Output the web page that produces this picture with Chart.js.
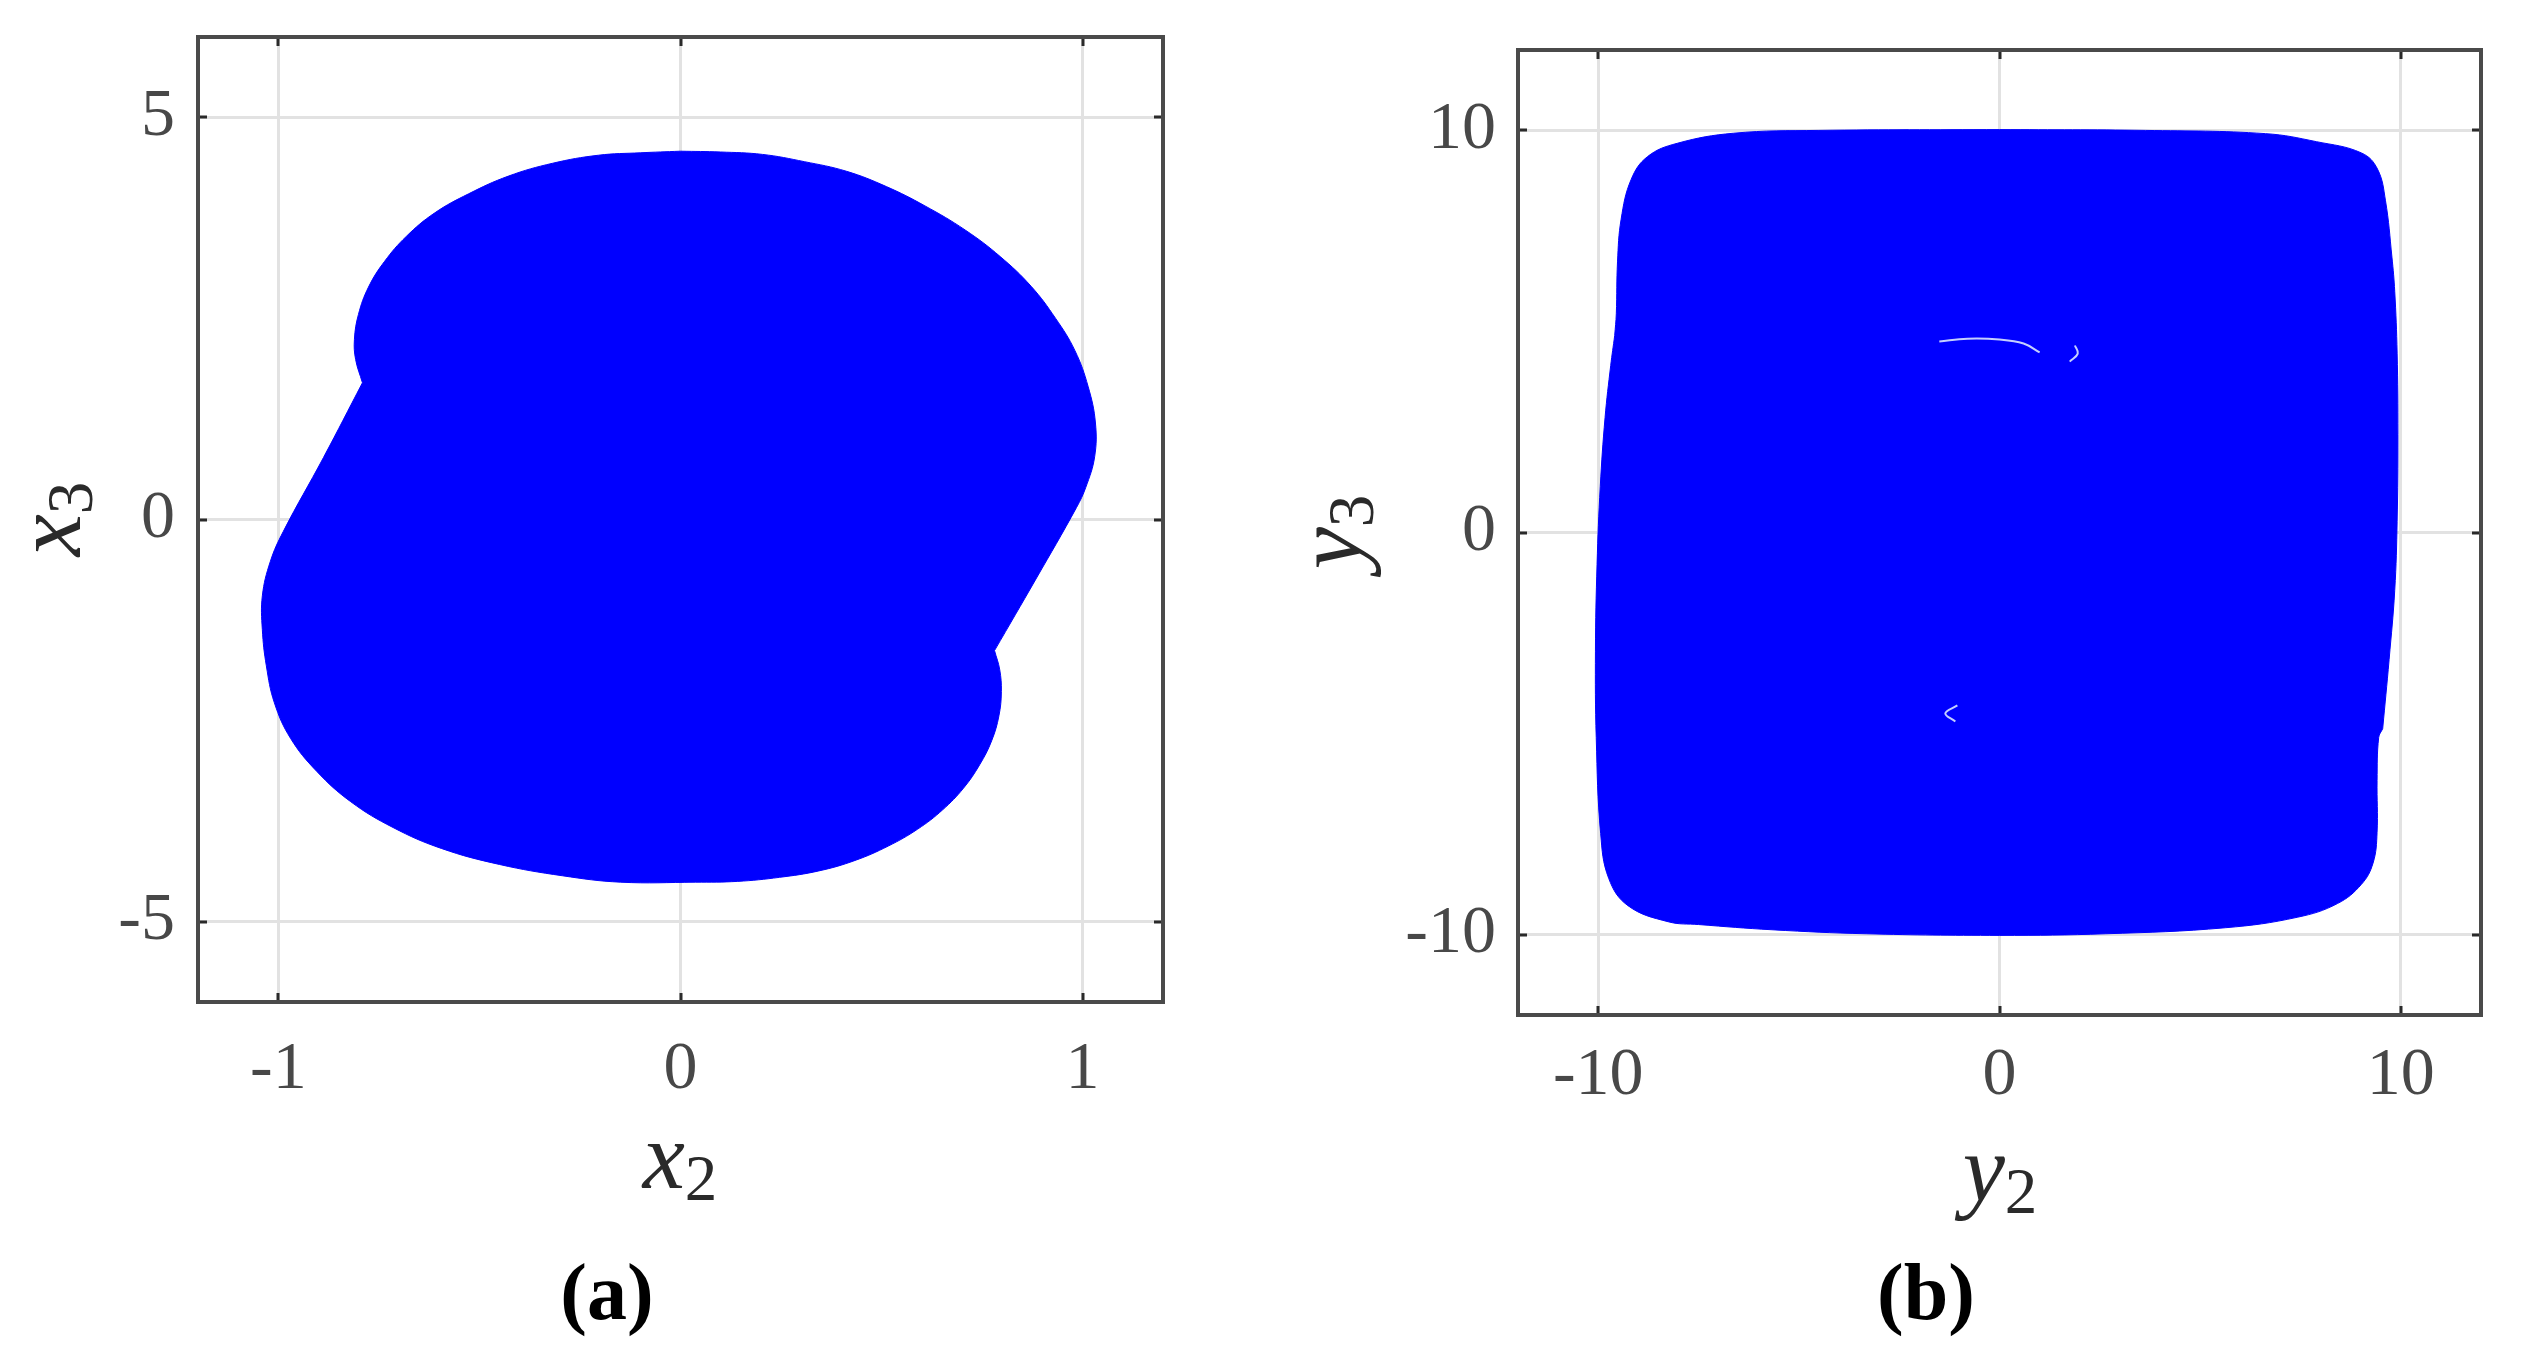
<!DOCTYPE html>
<html><head><meta charset="utf-8">
<script src="https://cdn.jsdelivr.net/npm/chart.js@4"></script>
<style>
html,body{margin:0;padding:0;background:#fff;width:2526px;height:1363px;overflow:hidden;}
canvas{position:absolute;top:0;}
#ca{left:0}
#cb{left:1263px}
.lab{position:absolute;width:200px;text-align:center;font-family:"Liberation Serif",serif;font-weight:bold;font-size:80px;line-height:80px;color:#000;}
.ttl{position:absolute;width:300px;height:100px;text-align:center;font-family:"Liberation Serif",serif;font-style:italic;font-size:95px;line-height:100px;color:#2a2a2a;white-space:nowrap;}
.ttl span{font-style:normal;font-size:65px;line-height:0;position:relative;top:12px;}
.rot{transform:rotate(-90deg);}
</style></head><body>
<canvas id="ca" width="1263" height="1363"></canvas>
<canvas id="cb" width="1263" height="1363"></canvas>
<div class="ttl" style="left:530px;top:1106px">x<span>2</span></div>
<div class="ttl rot" style="left:-102px;top:469px">x<span>3</span></div>
<div class="ttl" style="left:1850px;top:1119px">y<span>2</span></div>
<div class="ttl rot" style="left:1179px;top:482px">y<span>3</span></div>
<div class="lab" style="left:507px;top:1252px">(a)</div>
<div class="lab" style="left:1826px;top:1252px">(b)</div>
<script>
// ---- Panel (a): projection onto (x2, x3) — outline of the filled region, clockwise from the top
// (the two notch points are listed twice to keep the corners sharp)
const shapeA_x = [0, 0.0995, 0.204, 0.308, 0.413, 0.512, 0.608, 0.708, 0.795, 0.872, 0.933, 0.981, 1.014, 1.032, 1.030, 1.008, 0.985, 0.884, 0.781, 0.781,
  0.794, 0.798, 0.792, 0.774, 0.744, 0.704, 0.652, 0.590, 0.517, 0.434, 0.344, 0.246, 0.142, 0.037,
  -0.149, -0.294, -0.45, -0.595, -0.715, -0.82, -0.905, -0.97, -1.01, -1.03, -1.04, -1.04, -1.02, -0.988, -0.888, -0.791, -0.791,
  -0.808, -0.811, -0.801, -0.776, -0.736, -0.682, -0.612, -0.527, -0.428, -0.318, -0.204, -0.100, 0];
const shapeA_y = [4.58, 4.57, 4.54, 4.45, 4.33, 4.14, 3.90, 3.60, 3.27, 2.90, 2.50, 2.10, 1.65, 1.20, 0.78, 0.40, 0.15, -0.74, -1.63, -1.63,
  -1.87, -2.14, -2.44, -2.75, -3.05, -3.34, -3.61, -3.85, -4.06, -4.24, -4.37, -4.45, -4.50, -4.51,
  -4.51, -4.43, -4.29, -4.09, -3.83, -3.51, -3.13, -2.72, -2.28, -1.82, -1.37, -0.95, -0.52, -0.15, 0.77, 1.70, 1.70,
  1.99, 2.24, 2.55, 2.89, 3.21, 3.52, 3.81, 4.05, 4.27, 4.43, 4.53, 4.56, 4.58];

// ---- Panel (b): projection onto (y2, y3) — outline of the filled region, clockwise from the top
const shapeB_x = [0, 3.64, 6.63, 7.90, 9.02, 9.42, 9.62, 9.78, 9.85, 9.91, 9.93, 9.91, 9.85, 9.71, 9.55, 9.55, 9.45, 9.41, 9.41, 9.31, 9.02, 8.42, 7.42, 5.63, 2.65, 0, -3.32, -5.67, -7.50, -8.26, -9.26, -9.74, -9.94, -10.05, -10.07, -10.03, -9.95, -9.83, -9.69, -9.59, -9.59, -9.55, -9.52, -9.43, -9.18, -8.77, -8.03, -6.63, -4.50, 0];
const shapeB_y = [10.02, 10.0, 9.92, 9.72, 9.44, 9.04, 8.25, 6.85, 6.00, 4.46, 2.43, 0.28, -1.44, -3.16, -4.88, -4.88, -5.10, -6.17, -7.46, -8.22, -8.75, -9.23, -9.57, -9.83, -9.98, -10.02, -9.98, -9.88, -9.75, -9.68, -9.28, -8.60, -7.49, -5.10, -2.95, -0.80, 1.14, 2.86, 4.15, 4.90, 4.90, 5.44, 6.73, 7.79, 8.78, 9.35, 9.68, 9.93, 10.0, 10.02];

// faint light streaks inside panel (b)
const streakB1_x = [-1.5, -0.8, 0, 0.6, 1.0];
const streakB1_y = [4.75, 4.82, 4.80, 4.70, 4.48];
const streakB2_x = [1.75, 1.95, 1.88];
const streakB2_y = [4.25, 4.45, 4.65];
const streakB3_x = [-1.05, -1.35, -1.1];
const streakB3_y = [-4.3, -4.5, -4.7];

// ---- axes
const xTicksA = [-1, 0, 1];
const xTickLabelsA = ['-1', '0', '1'];
const yTicksA = [-5, 0, 5];
const yTickLabelsA = ['-5', '0', '5'];
const xRangeA = [-1.2, 1.2];
const yRangeA = [-6, 6];

const xTicksB = [-10, 0, 10];
const xTickLabelsB = ['-10', '0', '10'];
const yTicksB = [-10, 0, 10];
const yTickLabelsB = ['-10', '0', '10'];
const xRangeB = [-12, 12];
const yRangeB = [-12, 12];

const zip = (xs, ys) => xs.map((x, i) => ({x, y: ys[i]}));

const framePlugin = {
  id: 'frame',
  afterDraw(chart) {
    const {ctx, chartArea: a, scales: {x, y}} = chart;
    ctx.save();
    ctx.strokeStyle = '#2a2a2a';
    ctx.lineWidth = 3;
    ctx.beginPath();
    x.ticks.forEach(t => {
      const px = Math.round(x.getPixelForValue(t.value));
      ctx.moveTo(px, a.bottom); ctx.lineTo(px, a.bottom - 9);
      ctx.moveTo(px, a.top); ctx.lineTo(px, a.top + 9);
    });
    y.ticks.forEach(t => {
      const py = Math.round(y.getPixelForValue(t.value));
      ctx.moveTo(a.left, py); ctx.lineTo(a.left + 9, py);
      ctx.moveTo(a.right, py); ctx.lineTo(a.right - 9, py);
    });
    ctx.stroke();
    ctx.strokeStyle = '#4a4a4a';
    ctx.lineWidth = 4;
    ctx.strokeRect(a.left, a.top, a.right - a.left, a.bottom - a.top);
    ctx.restore();
  }
};

function makePanel(id, cfg) {
  const datasets = [{
    data: zip(cfg.sx, cfg.sy), order: 2,
    borderColor: '#0000ff', backgroundColor: '#0000ff',
    borderWidth: 1, pointRadius: 0, fill: 'shape', tension: 0.4
  }];
  (cfg.streaks || []).forEach(s => datasets.push({
    data: zip(s[0], s[1]), order: 1, borderColor: '#c4cfff',
    borderWidth: 2, pointRadius: 0, fill: false, tension: 0.4
  }));
  const tickFont = {family: '"Liberation Serif", serif', size: 68};
  return new Chart(document.getElementById(id), {
    type: 'line',
    data: {datasets},
    options: {
      responsive: false, animation: false, devicePixelRatio: 1,
      layout: {padding: cfg.pad},
      plugins: {legend: {display: false}, tooltip: {enabled: false}},
      scales: {
        x: {
          type: 'linear', min: cfg.xr[0], max: cfg.xr[1],
          afterBuildTicks: s => { s.ticks = cfg.xt.map(v => ({value: v})); },
          afterFit: s => { s.height = cfg.xh; s.paddingLeft = 0; s.paddingRight = 0; },
          ticks: {font: tickFont, color: '#484848', padding: cfg.xtp, maxRotation: 0,
                  callback: (v) => cfg.xl[cfg.xt.indexOf(v)]},
          grid: {color: '#e2e2e2', lineWidth: 3, drawTicks: false},
          border: {display: false}
        },
        y: {
          type: 'linear', min: cfg.yr[0], max: cfg.yr[1],
          afterBuildTicks: s => { s.ticks = cfg.yt.map(v => ({value: v})); },
          afterFit: s => { s.width = cfg.yw; s.paddingTop = 0; s.paddingBottom = 0; },
          ticks: {font: tickFont, color: '#484848', padding: cfg.ytp,
                  callback: (v) => cfg.yl[cfg.yt.indexOf(v)]},
          grid: {color: '#e2e2e2', lineWidth: 3, drawTicks: false},
          border: {display: false}
        }
      }
    },
    plugins: [framePlugin]
  });
}

makePanel('ca', {
  sx: shapeA_x, sy: shapeA_y, streaks: [],
  xr: xRangeA, yr: yRangeA, xt: xTicksA, xl: xTickLabelsA, yt: yTicksA, yl: yTickLabelsA,
  pad: {left: 0, top: 37, right: 100, bottom: 131}, yw: 198, xh: 230, xtp: 27, ytp: 23
});
makePanel('cb', {
  sx: shapeB_x, sy: shapeB_y,
  streaks: [[streakB1_x, streakB1_y], [streakB2_x, streakB2_y], [streakB3_x, streakB3_y]],
  xr: xRangeB, yr: yRangeB, xt: xTicksB, xl: xTickLabelsB, yt: yTicksB, yl: yTickLabelsB,
  pad: {left: 0, top: 50, right: 45, bottom: 118}, yw: 255, xh: 230, xtp: 20, ytp: 22
});
</script>
</body></html>
